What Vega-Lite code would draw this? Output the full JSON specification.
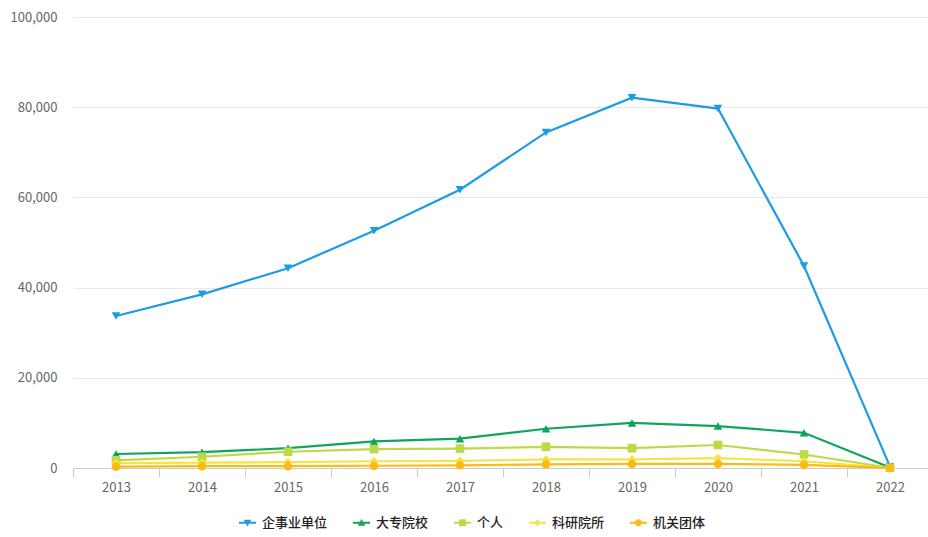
{
  "$schema": "https://vega.github.io/schema/vega-lite/v6.json",
  "width": 855,
  "height": 451,
  "autosize": {"type": "none"},
  "padding": {"left": 73, "top": 17, "right": 0, "bottom": 69},
  "background": "#ffffff",
  "config": {
    "view": {"stroke": null},
    "font": "Noto Sans CJK SC"
  },
  "data": {
    "values": [
      {"year": "2013", "series": "企事业单位", "value": 33700},
      {"year": "2014", "series": "企事业单位", "value": 38500},
      {"year": "2015", "series": "企事业单位", "value": 44300},
      {"year": "2016", "series": "企事业单位", "value": 52600},
      {"year": "2017", "series": "企事业单位", "value": 61700},
      {"year": "2018", "series": "企事业单位", "value": 74400},
      {"year": "2019", "series": "企事业单位", "value": 82100},
      {"year": "2020", "series": "企事业单位", "value": 79700},
      {"year": "2021", "series": "企事业单位", "value": 44800},
      {"year": "2022", "series": "企事业单位", "value": 300},
      {"year": "2013", "series": "大专院校", "value": 3100},
      {"year": "2014", "series": "大专院校", "value": 3500},
      {"year": "2015", "series": "大专院校", "value": 4400},
      {"year": "2016", "series": "大专院校", "value": 5900},
      {"year": "2017", "series": "大专院校", "value": 6500},
      {"year": "2018", "series": "大专院校", "value": 8700},
      {"year": "2019", "series": "大专院校", "value": 10000},
      {"year": "2020", "series": "大专院校", "value": 9300},
      {"year": "2021", "series": "大专院校", "value": 7800},
      {"year": "2022", "series": "大专院校", "value": 100},
      {"year": "2013", "series": "个人", "value": 1700},
      {"year": "2014", "series": "个人", "value": 2500},
      {"year": "2015", "series": "个人", "value": 3600},
      {"year": "2016", "series": "个人", "value": 4200},
      {"year": "2017", "series": "个人", "value": 4300},
      {"year": "2018", "series": "个人", "value": 4700},
      {"year": "2019", "series": "个人", "value": 4400},
      {"year": "2020", "series": "个人", "value": 5100},
      {"year": "2021", "series": "个人", "value": 3000},
      {"year": "2022", "series": "个人", "value": 50},
      {"year": "2013", "series": "科研院所", "value": 1100},
      {"year": "2014", "series": "科研院所", "value": 1200},
      {"year": "2015", "series": "科研院所", "value": 1300},
      {"year": "2016", "series": "科研院所", "value": 1500},
      {"year": "2017", "series": "科研院所", "value": 1600},
      {"year": "2018", "series": "科研院所", "value": 1900},
      {"year": "2019", "series": "科研院所", "value": 1900},
      {"year": "2020", "series": "科研院所", "value": 2200},
      {"year": "2021", "series": "科研院所", "value": 1500},
      {"year": "2022", "series": "科研院所", "value": 30},
      {"year": "2013", "series": "机关团体", "value": 300},
      {"year": "2014", "series": "机关团体", "value": 400},
      {"year": "2015", "series": "机关团体", "value": 400},
      {"year": "2016", "series": "机关团体", "value": 500},
      {"year": "2017", "series": "机关团体", "value": 600},
      {"year": "2018", "series": "机关团体", "value": 800},
      {"year": "2019", "series": "机关团体", "value": 900},
      {"year": "2020", "series": "机关团体", "value": 900},
      {"year": "2021", "series": "机关团体", "value": 700},
      {"year": "2022", "series": "机关团体", "value": 10}
    ]
  },
  "encoding": {
    "x": {
      "field": "year",
      "type": "nominal",
      "scale": {"type": "band", "range": [0, 860], "paddingInner": 0, "paddingOuter": 0},
      "axis": {
        "title": null,
        "labelAngle": 0,
        "tickBand": "extent",
        "tickSize": 9,
        "tickColor": "#cccccc",
        "domainColor": "#cccccc",
        "labelColor": "#666666",
        "labelFontSize": 13,
        "labelPadding": 4,
        "labelFont": "Noto Sans CJK SC",
        "grid": false
      }
    },
    "y": {
      "field": "value",
      "type": "quantitative",
      "scale": {"domain": [0, 100000]},
      "axis": {
        "title": null,
        "values": [0, 20000, 40000, 60000, 80000, 100000],
        "format": ",.0f",
        "domain": false,
        "ticks": false,
        "labelPadding": 16,
        "labelColor": "#666666",
        "labelFontSize": 13,
        "labelFont": "Noto Sans CJK SC",
        "gridColor": "#e8e8e8",
        "gridWidth": 1
      }
    },
    "color": {
      "field": "series",
      "type": "nominal",
      "scale": {
        "domain": ["企事业单位", "大专院校", "个人", "科研院所", "机关团体"],
        "range": ["#1d9be3", "#10a55a", "#bdd948", "#f7e444", "#fbbb14"]
      }
    }
  },
  "resolve": {"legend": {"color": "independent"}},
  "layer": [
    {
      "mark": {"type": "line", "strokeWidth": 2.2},
      "encoding": {
        "order": {"field": "year"},
        "color": {
          "field": "series",
          "type": "nominal",
          "legend": {
            "title": null,
            "orient": "none",
            "direction": "horizontal",
            "legendX": 166,
            "legendY": 497,
            "symbolSize": 289,
            "symbolStrokeWidth": 0,
            "labelFontSize": 13,
            "labelFontWeight": 500,
            "labelColor": "#222222",
            "labelFont": "Noto Sans CJK SC",
            "labelOffset": 6,
            "columnPadding": 25,
            "encode": {
              "symbols": {
                "update": {
                  "shape": {
                    "signal": "datum.value === '企事业单位' ? 'M-1,-0.12H1V0.12H-1Z M-0.45,-0.35H0.45L0,0.45Z' : datum.value === '大专院校' ? 'M-1,-0.12H1V0.12H-1Z M0.45,0.35H-0.45L0,-0.45Z' : datum.value === '个人' ? 'M-1,-0.12H1V0.12H-1Z M-0.4,-0.4H0.4V0.4H-0.4Z' : datum.value === '科研院所' ? 'M-1,-0.12H1V0.12H-1Z M0,-0.45L0.35,0L0,0.45L-0.35,0Z' : 'M-1,-0.12H1V0.12H-1Z M-0.4,0A0.4,0.4,0,1,1,0.4,0A0.4,0.4,0,1,1,-0.4,0Z'"
                  },
                  "fill": {"scale": "color", "field": "value"},
                  "stroke": {"value": "transparent"},
                  "strokeWidth": {"value": 0},
                  "opacity": {"value": 1}
                }
              }
            }
          }
        }
      }
    },
    {
      "mark": {"type": "point", "filled": true, "opacity": 1, "size": 75},
      "encoding": {
        "color": {"field": "series", "type": "nominal", "legend": null},
        "shape": {
          "field": "series",
          "type": "nominal",
          "scale": {
            "domain": ["企事业单位", "大专院校", "个人", "科研院所", "机关团体"],
            "range": ["triangle-down", "triangle-up", "square", "diamond", "circle"]
          },
          "legend": null
        }
      }
    }
  ]
}
